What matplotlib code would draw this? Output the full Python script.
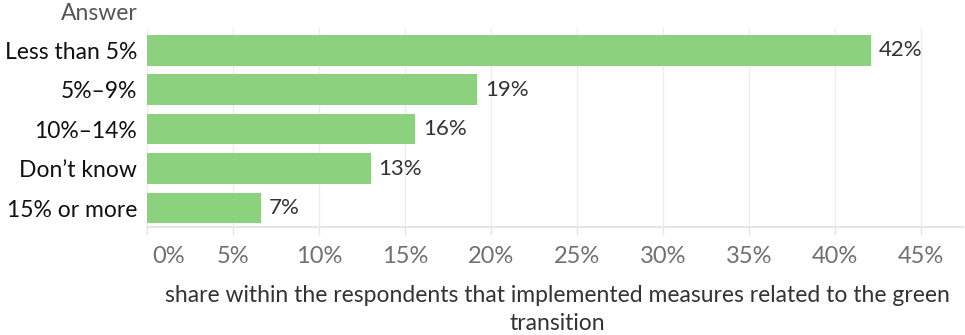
import matplotlib
matplotlib.use("Agg")
import matplotlib.pyplot as plt
from matplotlib.transforms import ScaledTranslation

# Survey answers and their shares (%)
answers = ["Less than 5%", "5%\u20139%", "10%\u201314%", "Don\u2019t know", "15% or more"]
shares = [42.1, 19.2, 15.6, 13.0, 6.6]
x_ticks = [0, 5, 10, 15, 20, 25, 30, 35, 40, 45]
x_tick_labels = [f"{t}%" for t in x_ticks]
axis_title = "share within the respondents that implemented measures related to the green\ntransition"
header = "Answer"

plt.rcParams["font.family"] = ["Lato", "DejaVu Sans"]

W, H = 965, 335
fig = plt.figure(figsize=(W / 100, H / 100), dpi=100)
left, right, top, bottom = 147, 963, 28, 227
ax = fig.add_axes([left / W, 1 - bottom / H, (right - left) / W, (bottom - top) / H])

bar_color = "#8CD17D"
pos = list(range(len(answers)))
ax.barh(pos, shares, height=0.78, color=bar_color, zorder=2)

for p, v in zip(pos, shares):
    ax.text(v + 0.45, p, f"{v:.0f}%", va="center", ha="left",
            fontsize=16, color="#333333", zorder=3)

ax.set_xlim(0, (right - left) / 17.2)
ax.set_ylim(4.48, -0.56)

ax.set_xticks(x_ticks)
ax.set_xticklabels(x_tick_labels, fontsize=17, color="#707070")
ax.set_yticks(pos)
ax.set_yticklabels(answers, fontsize=16.5, color="#111111")

ax.tick_params(axis="y", length=0, pad=7)
ax.tick_params(axis="x", length=6, width=1, color="#e6e6e6", pad=8)

# keep the first tick label inside the plotting area
first = ax.get_xticklabels()[0]
first.set_horizontalalignment("left")
first.set_transform(first.get_transform() + ScaledTranslation(5 / 100, 0, fig.dpi_scale_trans))

ax.grid(axis="x", color="#ededed", linewidth=1, zorder=0)
ax.set_axisbelow(True)
for s in ["top", "right", "left"]:
    ax.spines[s].set_visible(False)
ax.spines["bottom"].set_color("#e6e6e6")
ax.spines["bottom"].set_linewidth(1.5)

fig.text(138 / W, 1 - 13 / H, header, ha="right", va="center",
         fontsize=16.5, color="#555555")

fig.text(557 / W, 1 - 285 / H, axis_title, ha="center", va="top",
         fontsize=16.5, color="#333333", linespacing=1.42)

fig.savefig("out.png", dpi=100)
